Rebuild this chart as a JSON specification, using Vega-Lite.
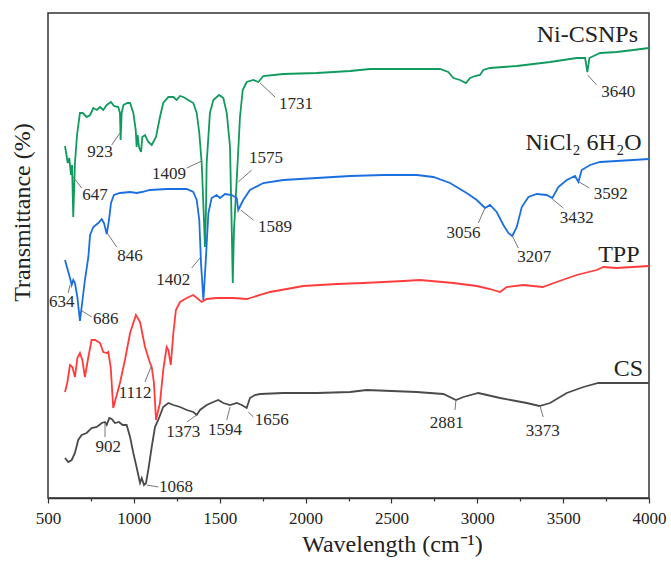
{
  "$schema": "https://vega.github.io/schema/vega-lite/v6.json",
  "width": 601,
  "height": 485,
  "autosize": {"type": "none"},
  "padding": {"left": 48, "top": 13, "right": 22, "bottom": 74},
  "background": "white",
  "config": {
    "view": {"stroke": "#333", "strokeWidth": 1.5},
    "axis": {"grid": false}
  },
  "datasets": {
    "spectra": [
      {"s":"Ni","x":599,"y":352},{"s":"Ni","x":615,"y":335},{"s":"Ni","x":624,"y":340},{"s":"Ni","x":634,"y":323},{"s":"Ni","x":640,"y":333},{"s":"Ni","x":647,"y":281},{"s":"Ni","x":657,"y":335},{"s":"Ni","x":669,"y":363},{"s":"Ni","x":686,"y":385},{"s":"Ni","x":702,"y":385},{"s":"Ni","x":725,"y":381},{"s":"Ni","x":745,"y":383},{"s":"Ni","x":764,"y":390},{"s":"Ni","x":784,"y":388},{"s":"Ni","x":803,"y":391},{"s":"Ni","x":822,"y":388},{"s":"Ni","x":842,"y":393},{"s":"Ni","x":867,"y":396},{"s":"Ni","x":884,"y":392},{"s":"Ni","x":909,"y":391},{"s":"Ni","x":919,"y":385},{"s":"Ni","x":923,"y":358},{"s":"Ni","x":929,"y":385},{"s":"Ni","x":939,"y":393},{"s":"Ni","x":962,"y":395},{"s":"Ni","x":978,"y":395},{"s":"Ni","x":997,"y":385},{"s":"Ni","x":1011,"y":368},{"s":"Ni","x":1016,"y":351},{"s":"Ni","x":1022,"y":363},{"s":"Ni","x":1030,"y":351},{"s":"Ni","x":1042,"y":346},{"s":"Ni","x":1049,"y":361},{"s":"Ni","x":1065,"y":363},{"s":"Ni","x":1084,"y":356},{"s":"Ni","x":1104,"y":353},{"s":"Ni","x":1129,"y":361},{"s":"Ni","x":1152,"y":381},{"s":"Ni","x":1171,"y":395},{"s":"Ni","x":1201,"y":401},{"s":"Ni","x":1230,"y":401},{"s":"Ni","x":1249,"y":398},{"s":"Ni","x":1269,"y":402},{"s":"Ni","x":1288,"y":401},{"s":"Ni","x":1317,"y":398},{"s":"Ni","x":1346,"y":395},{"s":"Ni","x":1366,"y":385},{"s":"Ni","x":1381,"y":365},{"s":"Ni","x":1395,"y":335},{"s":"Ni","x":1406,"y":288},{"s":"Ni","x":1414,"y":251},{"s":"Ni","x":1420,"y":288},{"s":"Ni","x":1424,"y":335},{"s":"Ni","x":1443,"y":385},{"s":"Ni","x":1463,"y":398},{"s":"Ni","x":1496,"y":403},{"s":"Ni","x":1521,"y":400},{"s":"Ni","x":1541,"y":385},{"s":"Ni","x":1560,"y":351},{"s":"Ni","x":1569,"y":278},{"s":"Ni","x":1576,"y":215},{"s":"Ni","x":1583,"y":268},{"s":"Ni","x":1599,"y":318},{"s":"Ni","x":1618,"y":381},{"s":"Ni","x":1634,"y":408},{"s":"Ni","x":1657,"y":416},{"s":"Ni","x":1696,"y":418},{"s":"Ni","x":1725,"y":416},{"s":"Ni","x":1754,"y":422},{"s":"Ni","x":1870,"y":424},{"s":"Ni","x":2065,"y":425},{"s":"Ni","x":2259,"y":427},{"s":"Ni","x":2375,"y":429},{"s":"Ni","x":2453,"y":429},{"s":"Ni","x":2647,"y":429},{"s":"Ni","x":2783,"y":429},{"s":"Ni","x":2831,"y":426},{"s":"Ni","x":2861,"y":420},{"s":"Ni","x":2899,"y":418},{"s":"Ni","x":2934,"y":415},{"s":"Ni","x":2958,"y":420},{"s":"Ni","x":2987,"y":422},{"s":"Ni","x":3016,"y":423},{"s":"Ni","x":3035,"y":428},{"s":"Ni","x":3074,"y":430},{"s":"Ni","x":3230,"y":432},{"s":"Ni","x":3424,"y":436},{"s":"Ni","x":3579,"y":440},{"s":"Ni","x":3628,"y":440},{"s":"Ni","x":3641,"y":426},{"s":"Ni","x":3653,"y":440},{"s":"Ni","x":3715,"y":445},{"s":"Ni","x":3812,"y":446},{"s":"Ni","x":3909,"y":448},{"s":"Ni","x":4000,"y":450},
      {"s":"NiCl","x":599,"y":238},{"s":"NiCl","x":628,"y":220},{"s":"NiCl","x":638,"y":213},{"s":"NiCl","x":647,"y":218},{"s":"NiCl","x":657,"y":215},{"s":"NiCl","x":671,"y":201},{"s":"NiCl","x":686,"y":177},{"s":"NiCl","x":696,"y":191},{"s":"NiCl","x":715,"y":218},{"s":"NiCl","x":735,"y":241},{"s":"NiCl","x":745,"y":263},{"s":"NiCl","x":764,"y":271},{"s":"NiCl","x":793,"y":275},{"s":"NiCl","x":813,"y":279},{"s":"NiCl","x":826,"y":275},{"s":"NiCl","x":842,"y":264},{"s":"NiCl","x":855,"y":278},{"s":"NiCl","x":867,"y":295},{"s":"NiCl","x":884,"y":303},{"s":"NiCl","x":919,"y":305},{"s":"NiCl","x":978,"y":306},{"s":"NiCl","x":1017,"y":305},{"s":"NiCl","x":1046,"y":306},{"s":"NiCl","x":1094,"y":308},{"s":"NiCl","x":1191,"y":309},{"s":"NiCl","x":1308,"y":309},{"s":"NiCl","x":1346,"y":306},{"s":"NiCl","x":1366,"y":298},{"s":"NiCl","x":1381,"y":278},{"s":"NiCl","x":1391,"y":235},{"s":"NiCl","x":1405,"y":198},{"s":"NiCl","x":1418,"y":235},{"s":"NiCl","x":1434,"y":285},{"s":"NiCl","x":1453,"y":300},{"s":"NiCl","x":1482,"y":303},{"s":"NiCl","x":1502,"y":300},{"s":"NiCl","x":1531,"y":304},{"s":"NiCl","x":1570,"y":303},{"s":"NiCl","x":1599,"y":300},{"s":"NiCl","x":1608,"y":288},{"s":"NiCl","x":1637,"y":298},{"s":"NiCl","x":1676,"y":308},{"s":"NiCl","x":1754,"y":315},{"s":"NiCl","x":1870,"y":318},{"s":"NiCl","x":2065,"y":320},{"s":"NiCl","x":2259,"y":322},{"s":"NiCl","x":2453,"y":323},{"s":"NiCl","x":2647,"y":323},{"s":"NiCl","x":2744,"y":321},{"s":"NiCl","x":2841,"y":315},{"s":"NiCl","x":2938,"y":305},{"s":"NiCl","x":2997,"y":298},{"s":"NiCl","x":3045,"y":290},{"s":"NiCl","x":3074,"y":293},{"s":"NiCl","x":3113,"y":286},{"s":"NiCl","x":3152,"y":273},{"s":"NiCl","x":3181,"y":265},{"s":"NiCl","x":3204,"y":262},{"s":"NiCl","x":3230,"y":271},{"s":"NiCl","x":3259,"y":291},{"s":"NiCl","x":3298,"y":301},{"s":"NiCl","x":3346,"y":304},{"s":"NiCl","x":3404,"y":303},{"s":"NiCl","x":3437,"y":300},{"s":"NiCl","x":3472,"y":311},{"s":"NiCl","x":3521,"y":318},{"s":"NiCl","x":3569,"y":322},{"s":"NiCl","x":3589,"y":316},{"s":"NiCl","x":3608,"y":328},{"s":"NiCl","x":3657,"y":333},{"s":"NiCl","x":3715,"y":336},{"s":"NiCl","x":3812,"y":337},{"s":"NiCl","x":4000,"y":339},
      {"s":"TPP","x":599,"y":106},{"s":"TPP","x":612,"y":115},{"s":"TPP","x":628,"y":133},{"s":"TPP","x":642,"y":131},{"s":"TPP","x":657,"y":121},{"s":"TPP","x":671,"y":140},{"s":"TPP","x":686,"y":145},{"s":"TPP","x":700,"y":138},{"s":"TPP","x":715,"y":121},{"s":"TPP","x":735,"y":141},{"s":"TPP","x":754,"y":158},{"s":"TPP","x":774,"y":158},{"s":"TPP","x":803,"y":155},{"s":"TPP","x":822,"y":146},{"s":"TPP","x":842,"y":145},{"s":"TPP","x":851,"y":146},{"s":"TPP","x":865,"y":131},{"s":"TPP","x":880,"y":90},{"s":"TPP","x":919,"y":115},{"s":"TPP","x":948,"y":138},{"s":"TPP","x":978,"y":165},{"s":"TPP","x":1012,"y":183},{"s":"TPP","x":1036,"y":176},{"s":"TPP","x":1065,"y":151},{"s":"TPP","x":1094,"y":135},{"s":"TPP","x":1104,"y":131},{"s":"TPP","x":1117,"y":115},{"s":"TPP","x":1129,"y":78},{"s":"TPP","x":1152,"y":95},{"s":"TPP","x":1171,"y":128},{"s":"TPP","x":1191,"y":151},{"s":"TPP","x":1201,"y":148},{"s":"TPP","x":1215,"y":133},{"s":"TPP","x":1230,"y":165},{"s":"TPP","x":1245,"y":188},{"s":"TPP","x":1269,"y":196},{"s":"TPP","x":1308,"y":200},{"s":"TPP","x":1346,"y":203},{"s":"TPP","x":1395,"y":196},{"s":"TPP","x":1424,"y":199},{"s":"TPP","x":1482,"y":200},{"s":"TPP","x":1579,"y":200},{"s":"TPP","x":1657,"y":199},{"s":"TPP","x":1696,"y":201},{"s":"TPP","x":1793,"y":206},{"s":"TPP","x":1987,"y":212},{"s":"TPP","x":2181,"y":214},{"s":"TPP","x":2336,"y":215},{"s":"TPP","x":2569,"y":217},{"s":"TPP","x":2667,"y":218},{"s":"TPP","x":2860,"y":215},{"s":"TPP","x":2997,"y":212},{"s":"TPP","x":3074,"y":209},{"s":"TPP","x":3133,"y":206},{"s":"TPP","x":3171,"y":211},{"s":"TPP","x":3268,"y":213},{"s":"TPP","x":3381,"y":211},{"s":"TPP","x":3462,"y":216},{"s":"TPP","x":3579,"y":223},{"s":"TPP","x":3695,"y":228},{"s":"TPP","x":3734,"y":231},{"s":"TPP","x":3812,"y":230},{"s":"TPP","x":4000,"y":232},
      {"s":"CS","x":599,"y":40},{"s":"CS","x":618,"y":36},{"s":"CS","x":638,"y":38},{"s":"CS","x":657,"y":45},{"s":"CS","x":676,"y":58},{"s":"CS","x":696,"y":63},{"s":"CS","x":725,"y":65},{"s":"CS","x":754,"y":70},{"s":"CS","x":784,"y":71},{"s":"CS","x":813,"y":75},{"s":"CS","x":832,"y":76},{"s":"CS","x":842,"y":73},{"s":"CS","x":857,"y":80},{"s":"CS","x":871,"y":79},{"s":"CS","x":890,"y":75},{"s":"CS","x":913,"y":76},{"s":"CS","x":935,"y":73},{"s":"CS","x":958,"y":73},{"s":"CS","x":978,"y":61},{"s":"CS","x":997,"y":45},{"s":"CS","x":1017,"y":30},{"s":"CS","x":1036,"y":15},{"s":"CS","x":1046,"y":20},{"s":"CS","x":1059,"y":13},{"s":"CS","x":1071,"y":15},{"s":"CS","x":1084,"y":28},{"s":"CS","x":1104,"y":51},{"s":"CS","x":1123,"y":71},{"s":"CS","x":1142,"y":78},{"s":"CS","x":1171,"y":91},{"s":"CS","x":1201,"y":95},{"s":"CS","x":1230,"y":93},{"s":"CS","x":1269,"y":91},{"s":"CS","x":1308,"y":88},{"s":"CS","x":1346,"y":86},{"s":"CS","x":1366,"y":83},{"s":"CS","x":1385,"y":88},{"s":"CS","x":1424,"y":93},{"s":"CS","x":1463,"y":96},{"s":"CS","x":1492,"y":98},{"s":"CS","x":1521,"y":95},{"s":"CS","x":1560,"y":93},{"s":"CS","x":1599,"y":95},{"s":"CS","x":1628,"y":93},{"s":"CS","x":1657,"y":90},{"s":"CS","x":1676,"y":100},{"s":"CS","x":1705,"y":103},{"s":"CS","x":1735,"y":104},{"s":"CS","x":1870,"y":105},{"s":"CS","x":2065,"y":105},{"s":"CS","x":2259,"y":106},{"s":"CS","x":2356,"y":108},{"s":"CS","x":2647,"y":106},{"s":"CS","x":2802,"y":104},{"s":"CS","x":2876,"y":98},{"s":"CS","x":2919,"y":101},{"s":"CS","x":3006,"y":105},{"s":"CS","x":3133,"y":100},{"s":"CS","x":3288,"y":95},{"s":"CS","x":3362,"y":92},{"s":"CS","x":3424,"y":95},{"s":"CS","x":3521,"y":105},{"s":"CS","x":3618,"y":111},{"s":"CS","x":3705,"y":115},{"s":"CS","x":3812,"y":115},{"s":"CS","x":4000,"y":115}
    ],
    "peaks": [
      {"t":"647","x":774,"y":303},{"t":"923","x":803,"y":346},{"t":"1409","x":1205,"y":324},{"t":"1575","x":1770,"y":340},{"t":"1731","x":1944,"y":394},{"t":"3640","x":3821,"y":406},
      {"t":"634","x":580,"y":196},{"t":"686","x":836,"y":179},{"t":"846","x":978,"y":242},{"t":"1402","x":1230,"y":218},{"t":"1589","x":1822,"y":271},{"t":"3056","x":2919,"y":265},{"t":"3207","x":3332,"y":241},{"t":"3432","x":3579,"y":280},{"t":"3592","x":3777,"y":304},
      {"t":"1112","x":1007,"y":105},
      {"t":"902","x":851,"y":51},{"t":"1068","x":1245,"y":11},{"t":"1373","x":1288,"y":66},{"t":"1594","x":1531,"y":68},{"t":"1656","x":1803,"y":78},{"t":"2881","x":2822,"y":75},{"t":"3373","x":3381,"y":67}
    ],
    "leaders": [
      {"x":647,"y":321,"x2":696,"y2":310},{"x":919,"y":365,"x2":871,"y2":353},{"x":1395,"y":337,"x2":1308,"y2":330},{"x":1608,"y":316,"x2":1686,"y2":328},{"x":1735,"y":415,"x2":1822,"y2":401},{"x":3643,"y":423,"x2":3695,"y2":413},
      {"x":628,"y":213,"x2":618,"y2":205},{"x":690,"y":188,"x2":754,"y2":181},{"x":845,"y":265,"x2":900,"y2":251},{"x":1385,"y":240,"x2":1337,"y2":230},{"x":1622,"y":288,"x2":1696,"y2":278},{"x":3045,"y":290,"x2":3006,"y2":275},{"x":3204,"y":262,"x2":3239,"y2":250},{"x":3437,"y":299,"x2":3501,"y2":290},{"x":3594,"y":316,"x2":3652,"y2":310},
      {"x":1104,"y":133,"x2":1065,"y2":116},
      {"x":832,"y":75,"x2":832,"y2":61},{"x":1075,"y":13,"x2":1142,"y2":11},{"x":1366,"y":83,"x2":1308,"y2":76},{"x":1560,"y":91,"x2":1541,"y2":78},{"x":1666,"y":86,"x2":1696,"y2":81},{"x":2876,"y":98,"x2":2870,"y2":88},{"x":3365,"y":92,"x2":3384,"y2":81}
    ],
    "names": [
      {"t":"Ni-CSNPs","x":3936,"y":463},{"t":"NiCl₂ 6H₂O","x":3957,"y":355},{"t":"TPP","x":3945,"y":243},{"t":"CS","x":3965,"y":129}
    ]
  },
  "encoding": {
    "x": {"field": "x", "type": "quantitative", "scale": {"domain": [500, 4000], "nice": false},
      "axis": {"orient": "bottom", "values": [500,750,1000,1250,1500,1750,2000,2250,2500,2750,3000,3250,3500,3750,4000],
        "tickSize": {"condition": {"test": "datum.value % 500 === 0", "value": 5}, "value": 3},
        "tickColor": "#333", "tickWidth": 1.2, "domainColor": "#333", "domainWidth": 1.5,
        "labelExpr": "datum.value % 500 === 0 ? format(datum.value, 'd') : ''",
        "labelFont": "Liberation Serif", "labelFontSize": 17, "labelColor": "#222", "labelPadding": 7, "labelFlush": false, "labelOverlap": false,
        "title": "Wavelength (cm⁻¹)", "titleFont": "Liberation Serif", "titleFontSize": 24, "titleFontWeight": "normal", "titleColor": "#222",
        "titleAnchor": "middle", "titleX": 344, "titleY": 53, "titleBaseline": "alphabetic"}},
    "y": {"field": "y", "type": "quantitative", "scale": {"domain": [0, 485], "nice": false, "zero": false},
      "axis": {"ticks": false, "labels": false, "domain": false, "title": "Transmittance (%)", "titleFont": "Liberation Serif", "titleFontSize": 24, "titleFontWeight": "normal", "titleColor": "#222",
        "titleAnchor": "middle", "titleX": -26, "titleY": 199, "titleBaseline": "middle", "titleAngle": -90}}
  },
  "layer": [
    {
      "data": {"name": "spectra"},
      "mark": {"type": "line", "strokeWidth": 1.8},
      "encoding": {
        "color": {"field": "s", "type": "nominal", "legend": null,
          "scale": {"domain": ["Ni", "NiCl", "TPP", "CS"], "range": ["#109a5e", "#1a6fe0", "#ff3b3b", "#4a4a4a"]}}
      }
    },
    {
      "data": {"name": "leaders"},
      "mark": {"type": "rule", "color": "#777", "strokeWidth": 1},
      "encoding": {
        "x2": {"field": "x2"},
        "y2": {"field": "y2"}
      }
    },
    {
      "data": {"name": "peaks"},
      "mark": {"type": "text", "font": "Liberation Serif", "fontSize": 17, "color": "#2a2a2a", "align": "center", "baseline": "middle"},
      "encoding": {"text": {"field": "t"}}
    },
    {
      "data": {"name": "names"},
      "mark": {"type": "text", "font": "Liberation Serif", "fontSize": 24, "color": "#222", "align": "right", "baseline": "middle"},
      "encoding": {"text": {"field": "t"}}
    }
  ]
}
